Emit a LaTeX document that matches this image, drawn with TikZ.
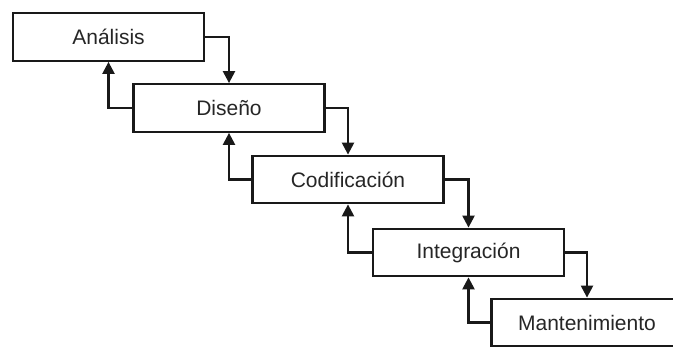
\documentclass[tikz,border=0pt]{standalone}
\usepackage{fontspec}
\setmainfont{Liberation Sans}
\usetikzlibrary{arrows.meta}
\tikzset{
  stage/.style={draw=black!90, line width=2.3pt, fill=white, minimum width=191pt, minimum height=47.5pt, inner sep=0pt, font=\fontsize{21pt}{24pt}\selectfont, text=black!85},
  flow/.style={line width=2.3pt, draw=black!90, -{Triangle[length=12pt,width=12pt]}}
}
\begin{document}
\begin{tikzpicture}[x=1pt,y=-1pt]
\useasboundingbox (0,0) rectangle (673,347);
\clip (0,0) rectangle (673,347);
\fill[white] (0,0) rectangle (673,347);
\node[stage] (b1) at (108.5,37) {Análisis};
\node[stage] (b2) at (229,108) {Diseño};
\node[stage] (b3) at (348,179.5) {Codificación};
\node[stage] (b4) at (468.5,252.5) {Integración};
\node[stage] (b5) at (587,322.5) {Mantenimiento};
\draw[flow] (b1.east) -| (b2.north);
\draw[flow] (b2.east) -| (b3.north);
\draw[flow] (b3.east) -| (b4.north);
\draw[flow] (b4.east) -| (b5.north);
\draw[flow] (b2.west) -| (b1.south);
\draw[flow] (b3.west) -| (b2.south);
\draw[flow] (b4.west) -| (b3.south);
\draw[flow] (b5.west) -| (b4.south);
\end{tikzpicture}
\end{document}
